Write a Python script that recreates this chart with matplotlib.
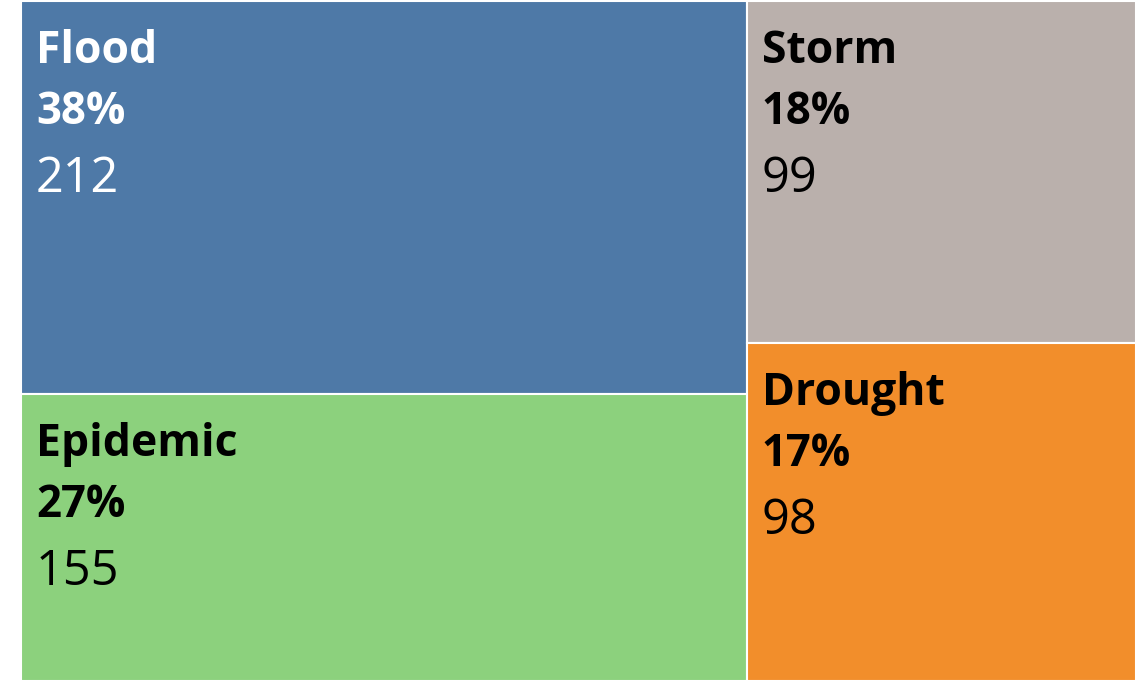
import matplotlib
matplotlib.use("Agg")
import matplotlib.pyplot as plt
from matplotlib.patches import Rectangle
from matplotlib.transforms import offset_copy

categories = ["Flood", "Epidemic", "Storm", "Drought"]
values = [212, 155, 99, 98]
colors = ["#4E79A7", "#8CD17D", "#BAB0AC", "#F28E2B"]
text_colors = ["white", "black", "black", "black"]
columns = [[0, 1], [2, 3]]

W, H = 1140, 684
fig = plt.figure(figsize=(W / 100, H / 100), dpi=100)
ax = fig.add_axes([21 / W, 3 / H, (1136 - 21) / W, (683 - 3) / H])
ax.set_xlim(0, 1)
ax.set_ylim(0, 1)
ax.axis("off")

total = sum(values)
x0 = 0.0
rects = {}
for col in columns:
    csum = sum(values[i] for i in col)
    w = csum / total
    ytop = 1.0
    for i in col:
        h = values[i] / csum
        rects[i] = (x0, ytop - h, w, h)
        ytop -= h
    x0 += w

fam = ["Open Sans", "DejaVu Sans"]
px = 72 / 100
for i, (x, y, w, h) in rects.items():
    ax.add_patch(Rectangle((x, y), w, h, facecolor=colors[i], edgecolor="white", linewidth=1.5))
    pct = round(values[i] / total * 100)
    lines = [
        (categories[i], 62, 32, "bold"),
        (f"{pct}%", 123, 31.5, "bold"),
        (str(values[i]), 191, 35, "normal"),
    ]
    for txt, dy, size, weight in lines:
        tr = offset_copy(ax.transData, fig=fig, x=15 * px, y=-dy * px, units="points")
        ax.text(x, y + h, txt, transform=tr, ha="left", va="baseline",
                fontsize=size, fontweight=weight, color=text_colors[i], family=fam)

fig.savefig("out.png", dpi=100)
